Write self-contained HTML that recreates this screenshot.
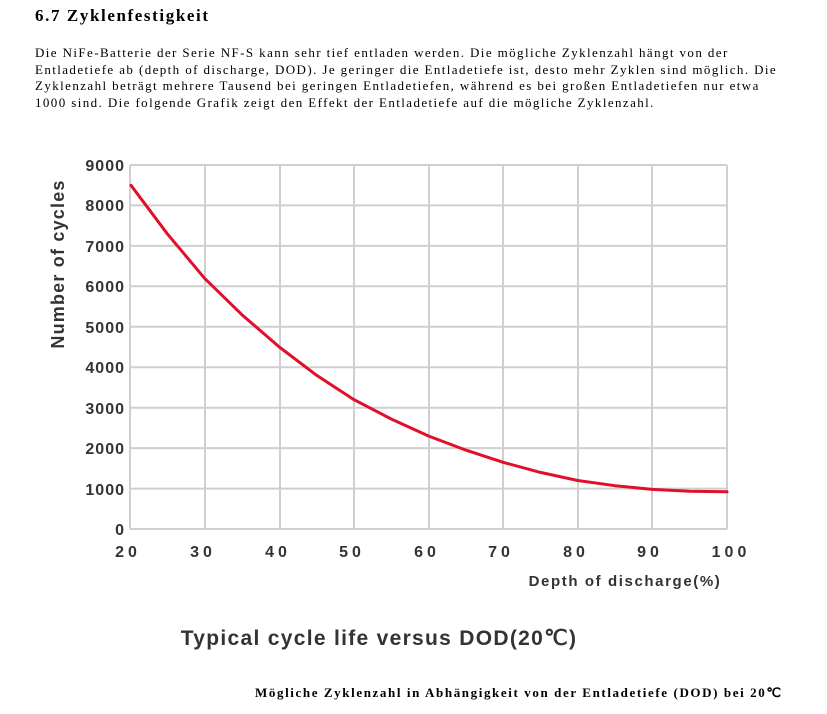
<!DOCTYPE html>
<html><head><meta charset="utf-8"><style>
body{margin:0;width:827px;height:714px;background:#fff;position:relative;overflow:hidden;font-family:"Liberation Serif",serif;color:#000}
h1{position:absolute;left:35px;top:6px;margin:0;font-size:17px;font-weight:bold;letter-spacing:1.6px}
p{position:absolute;left:35px;top:45px;margin:0;font-size:13px;line-height:16.7px;width:800px;letter-spacing:1.4px;white-space:nowrap}
.c{position:absolute;left:255px;top:685px;font-size:13px;font-weight:bold;letter-spacing:1.6px;white-space:nowrap}
</style></head><body>
<h1>6.7 Zyklenfestigkeit</h1>
<p>Die NiFe-Batterie der Serie NF-S kann sehr tief entladen werden. Die mögliche Zyklenzahl hängt von der<br>Entladetiefe ab (depth of discharge, DOD). Je geringer die Entladetiefe ist, desto mehr Zyklen sind möglich. Die<br>Zyklenzahl beträgt mehrere Tausend bei geringen Entladetiefen, während es bei großen Entladetiefen nur etwa<br>1000 sind. Die folgende Grafik zeigt den Effekt der Entladetiefe auf die mögliche Zyklenzahl.</p>
<svg width="827" height="714" style="position:absolute;left:0;top:0">
<g stroke="#cfcfcf" stroke-width="2">
<line x1="130" y1="165" x2="130" y2="529"/><line x1="205" y1="165" x2="205" y2="529"/><line x1="280" y1="165" x2="280" y2="529"/><line x1="354" y1="165" x2="354" y2="529"/><line x1="429" y1="165" x2="429" y2="529"/><line x1="503" y1="165" x2="503" y2="529"/><line x1="578" y1="165" x2="578" y2="529"/><line x1="652" y1="165" x2="652" y2="529"/><line x1="727" y1="165" x2="727" y2="529"/>
<line x1="130" y1="165" x2="727" y2="165"/><line x1="130" y1="205.4" x2="727" y2="205.4"/><line x1="130" y1="245.9" x2="727" y2="245.9"/><line x1="130" y1="286.3" x2="727" y2="286.3"/><line x1="130" y1="326.8" x2="727" y2="326.8"/><line x1="130" y1="367.2" x2="727" y2="367.2"/><line x1="130" y1="407.7" x2="727" y2="407.7"/><line x1="130" y1="448.1" x2="727" y2="448.1"/><line x1="130" y1="488.6" x2="727" y2="488.6"/><line x1="130" y1="529" x2="727" y2="529"/>
</g>
<polyline points="131,185.3 167.3,233.8 204.6,278.3 241.9,314.7 279.3,347 316.6,375.3 353.9,399.6 391.2,419 428.5,436 465.8,450.1 503.1,462.3 540.4,472.4 577.7,480.5 615,485.7 652.3,489.4 689.6,491.2 727,491.8" fill="none" stroke="#e0102a" stroke-width="3" stroke-linejoin="round" stroke-linecap="round"/>
<g font-family="Liberation Sans,sans-serif" font-weight="bold" font-size="16" fill="#333" text-anchor="end" letter-spacing="1">
<text x="125" y="171">9000</text><text x="125" y="211">8000</text><text x="125" y="252">7000</text><text x="125" y="292">6000</text><text x="125" y="333">5000</text><text x="125" y="373">4000</text><text x="125" y="414">3000</text><text x="125" y="454">2000</text><text x="125" y="495">1000</text><text x="125" y="535">0</text>
</g>
<g font-family="Liberation Sans,sans-serif" font-weight="bold" font-size="16" fill="#333" text-anchor="middle" letter-spacing="4">
<text x="128" y="557">20</text><text x="203" y="557">30</text><text x="278" y="557">40</text><text x="352" y="557">50</text><text x="427" y="557">60</text><text x="501" y="557">70</text><text x="576" y="557">80</text><text x="650" y="557">90</text><text x="731" y="557">100</text>
</g>
<text x="625" y="586" text-anchor="middle" font-family="Liberation Sans,sans-serif" font-weight="bold" font-size="15" fill="#333" letter-spacing="1.6">Depth of discharge(%)</text>
<text transform="translate(64,264) rotate(-90)" text-anchor="middle" font-family="Liberation Sans,sans-serif" font-weight="bold" font-size="18" fill="#333" letter-spacing="1.2">Number of cycles</text>
<text x="379" y="645" text-anchor="middle" font-family="Liberation Sans,sans-serif" font-weight="bold" font-size="21" fill="#333" letter-spacing="1.3">Typical cycle life versus DOD(20℃)</text>
</svg>
<div class="c">Mögliche Zyklenzahl in Abhängigkeit von der Entladetiefe (DOD) bei 20℃</div>
</body></html>
